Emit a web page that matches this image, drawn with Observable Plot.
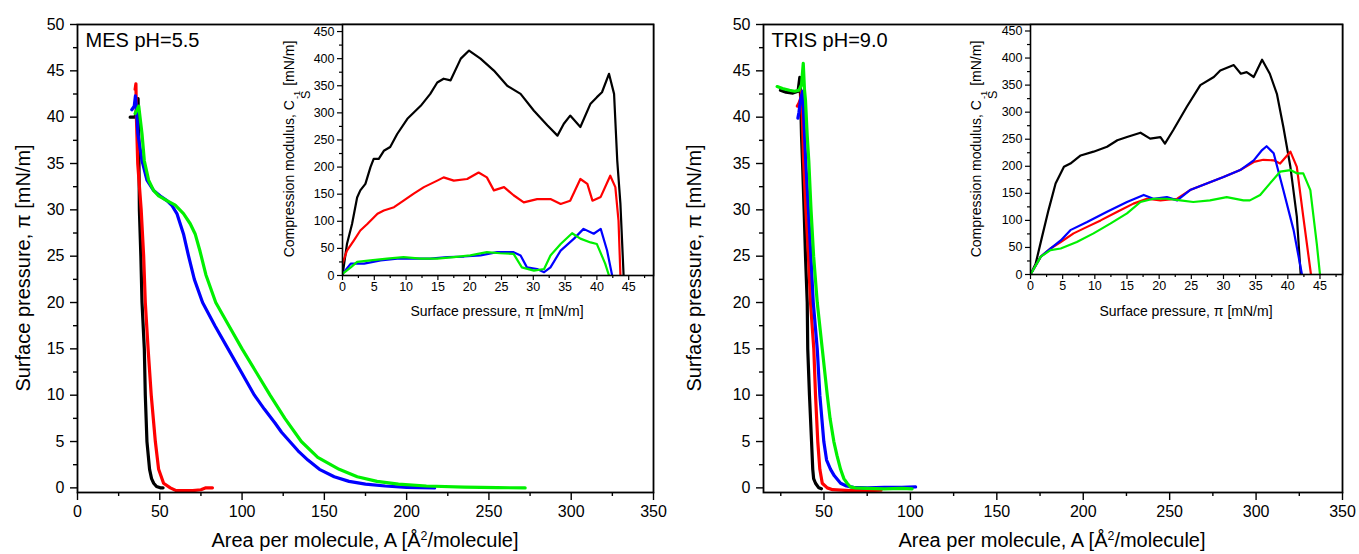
<!DOCTYPE html>
<html><head><meta charset="utf-8">
<script src="https://cdn.jsdelivr.net/npm/d3@7"></script>
<script src="https://cdn.jsdelivr.net/npm/@observablehq/plot@0.6"></script>
<style>
body{margin:0;background:#fff;font-family:"Liberation Sans",Arial,sans-serif;}
#wrap{position:relative;width:1359px;height:554px;overflow:hidden;background:#fff;}
#wrap svg{position:absolute;left:0;top:0;max-width:none;}
.t{position:absolute;white-space:nowrap;color:#000;line-height:1;transform:translate(-50%,-50%);}
.t.rot{transform:translate(-50%,-50%) rotate(-90deg);}
.t sup{font-size:0.62em;vertical-align:0.6em;}
.ss{display:inline-flex;flex-direction:column;vertical-align:-0.45em;font-size:0.9em;line-height:0.9;margin:0 1px;}
.ss .s1{font-size:0.75em;}
</style></head><body><div id="wrap"></div>
<script>
// ---------- Data (area A [Å²/molecule], surface pressure π [mN/m]) ----------
const mesBlack = [[32,40],[35,40],[36,41],[36.8,42],[37.2,38],[37.6,30],[38.5,25],[39.2,20],[40.6,15],[41.2,10],[42.2,5],[43.8,2],[45,1],[46.3,0.5],[48,0.15],[50.3,0],[52,0]];
const mesRed = [[35,43],[35.5,43.6],[35.8,40],[36.6,35],[38.7,30],[40.2,25],[41.2,20],[42.9,15],[44.8,10],[47.3,5],[49.3,2],[52.3,0.5],[56.4,0],[60,-0.3],[70,-0.3],[75,-0.2],[78,0],[82,0]];
const mesBlue = [[33,40.8],[34.5,41.2],[35.2,42.3],[35.8,41],[36.7,38.2],[39.2,35.3],[42.2,33.2],[46.2,32.1],[50.3,31.5],[54.3,31],[57.3,30.5],[60.4,29.6],[64.4,27.4],[67.5,25],[71,22.5],[76,20],[83.5,17.5],[91.5,15],[99.5,12.5],[107.5,10],[113.5,8.5],[120,7],[124,6],[129,5],[134,4],[140,3],[147,2],[156,1.2],[165,0.7],[175,0.4],[187,0.2],[200,0.05],[217,0]];
const mesGreen = [[35,40.4],[36.2,40.8],[37.2,41.2],[38,40],[39.2,38.2],[40.6,35.3],[43.2,33.2],[46.2,32.1],[49.3,31.5],[54.3,31],[59.4,30.5],[64.4,29.6],[68.5,28.5],[71.5,27.4],[74.5,25.5],[78,23],[84,20],[92,17.5],[100,15],[108.5,12.5],[117,10],[126,7.5],[136,5],[146,3.3],[159,2],[170,1.2],[182,0.7],[195,0.4],[212,0.2],[235,0.07],[255,0.02],[272,0]];

const trisBlack = [[24.8,42.9],[28,42.7],[32,42.6],[35,42.8],[36,44.3],[36.5,42],[37,38],[37.6,35],[38.5,30],[39.3,25],[40.3,20],[40.6,15],[41.6,10],[42.8,5],[43.5,2],[44,1],[45.1,0.5],[47,0],[48.5,-0.1]];
const trisRed = [[34.6,41.2],[35.5,41.5],[36.5,42],[37,42.8],[37.5,40],[38.2,35.3],[39.5,30],[41,25],[42.2,20],[44.1,15],[45.1,10],[46.4,5],[47.6,2],[49,0.5],[51.9,0],[55,-0.2],[65,-0.3],[75,-0.3],[83,-0.25]];
const trisBlue = [[34.9,39.9],[35.5,40.5],[36.5,42],[37.7,42.8],[38.3,40],[39.5,35],[41,30],[42.4,25],[43.8,20],[46.1,15],[47.6,10],[49.9,5],[51.5,3],[53.8,2],[56,1.3],[59.6,0.5],[63,0.2],[67.1,0.05],[75,0],[85,0.05],[95,0.05],[103,0.1]];
const trisGreen = [[22.9,43.3],[26,43.1],[30,42.9],[33,42.8],[35.5,42.9],[37,43.5],[38,45.8],[38.7,43],[39.3,41.8],[40.3,38],[41.2,35.3],[42.5,30],[44,25],[46.1,20],[49,15],[51.9,10],[53.5,7.5],[55.7,5],[57.5,3.5],[59.6,2],[61.5,1],[63.4,0.5],[65.3,0.1],[68,0],[75,-0.05],[85,-0.1],[95,-0.05],[101,-0.1]];

// ---------- Inset data (π [mN/m], compression modulus C_S^-1 [mN/m]) ----------
const mesInsetBlack = [[0,0],[0.7,58],[1.5,95],[2.3,144],[2.8,157],[3.6,169],[4.4,200],[4.9,215],[5.7,215],[6.5,230],[7.5,237],[8.6,261],[10.2,289],[12.3,313],[13.8,335],[14.9,356],[15.9,363],[17,360],[18.6,400],[19.9,415],[21.7,400],[23.8,378],[25.9,350],[28,335],[30.1,304],[32.2,277],[33.8,258],[34.8,280],[35.8,295],[37.4,274],[39,317],[40,329],[40.8,338],[41.9,372],[42.7,335],[43.2,212],[43.7,132],[44.2,0]];
const mesInsetRed = [[0,22],[0.7,46],[1.8,65],[2.8,83],[3.9,95],[5.5,114],[6.5,120],[8.1,126],[9.6,138],[11.2,151],[12.8,163],[14.9,175],[15.9,181],[17.5,175],[19.6,178],[21.4,190],[22.7,181],[23.8,157],[25.4,163],[26.9,148],[28.5,135],[30.6,141],[32.7,141],[34.3,132],[35.8,138],[37.4,178],[38.5,169],[39.3,138],[40.6,145],[42.1,184],[42.9,163],[43.4,101],[43.7,0]];
const mesInsetBlue = [[0,3],[1.3,22],[3.4,22],[6,28],[8.6,31],[11.2,31],[13.8,31],[16.5,34],[19.1,35],[21.7,37],[24.3,43],[26.9,43],[28,37],[29,15],[30.6,12],[31.7,6],[32.7,15],[34.3,46],[36.4,68],[37.9,86],[39.5,77],[40.6,86],[41.6,46],[42.4,0]];
const mesInsetGreen = [[0,3],[1.3,15],[2.3,25],[4.4,28],[7,31],[9.6,34],[12.3,31],[14.9,31],[17.5,34],[20.1,37],[22.7,43],[24.8,41],[26.9,40],[28.2,15],[30.1,9],[31.7,12],[32.7,37],[34.3,58],[36.1,78],[37.4,68],[39,61],[40,58],[41.3,22],[41.9,0]];

const trisInsetBlack = [[0,0],[0.8,20],[1.8,70],[2.8,119],[3.9,168],[5.2,199],[6.2,205],[7.8,220],[9.8,227],[11.9,236],[13.5,248],[15,254],[17.1,262],[18.6,251],[20.2,254],[20.9,242],[22.2,267],[24.3,310],[26.4,350],[28.5,365],[29.5,377],[31.6,387],[32.7,371],[33.6,374],[34.7,365],[36,397],[37.2,371],[38.3,334],[39.3,273],[40.4,199],[41.4,107],[42,0]];
const trisInsetRed = [[0,0],[1.6,33],[3.1,48],[4.7,60],[6.7,76],[8.8,88],[10.9,100],[13.5,116],[16,131],[18.1,140],[20.2,137],[22.8,140],[24.8,156],[27.4,168],[30,180],[32.6,193],[34.7,208],[36.2,212],[37.8,211],[38.8,205],[40.4,227],[41.4,199],[42.4,107],[43.6,0]];
const trisInsetBlue = [[0,0],[1.6,33],[3.1,48],[4.7,63],[6.2,82],[8.8,97],[11.9,116],[15,134],[17.6,147],[19.1,140],[21.2,143],[22.8,137],[24.8,156],[27.4,168],[30,180],[32.6,193],[34.7,211],[36,230],[36.7,237],[37.8,224],[39.3,156],[40.9,82],[42.2,0]];
const trisInsetGreen = [[0,0],[1.6,33],[3.1,45],[4.7,48],[7.2,60],[9.8,76],[12.4,94],[15,113],[17.1,134],[19.1,140],[21.2,140],[23.3,137],[25.3,134],[27.9,137],[30.5,143],[33.1,137],[34.1,137],[35.7,147],[37.2,168],[38.8,190],[40.4,193],[41.4,187],[42.4,187],[43.5,156],[44.5,57],[45,0]];

// ---------- Tick values ----------
const yTicks = [0,5,10,15,20,25,30,35,40,45,50];
const yMinorTicks = [2.5,7.5,12.5,17.5,22.5,27.5,32.5,37.5,42.5,47.5];
const mesXTicks = [0,50,100,150,200,250,300,350];
const trisXTicks = [50,100,150,200,250,300,350];
const xMinorTicks = [25,75,125,175,225,275,325];
const insetYTicks = [0,50,100,150,200,250,300,350,400,450];
const insetYMinorTicks = [25,75,125,175,225,275,325,375,425];
const insetXTicks = [0,5,10,15,20,25,30,35,40,45];
const insetXMinorTicks = [2.5,7.5,12.5,17.5,22.5,27.5,32.5,37.5,42.5,47.5];

const colors = {black:"#000000", red:"#ff0000", blue:"#0000ff", green:"#00f000"};
const FONT = '"Liberation Sans", Arial, sans-serif';
const W = 1359, H = 554;

function lines(list, sw) {
  return list.map(([d, c]) => Plot.line(d, {x: p => p[0], y: p => p[1], stroke: c, strokeWidth: sw, strokeLinejoin: "round", strokeLinecap: "round", clip: true}));
}

function mainPlot({ml, mr, xDomain, xTicks, series, label}) {
  return Plot.plot({
    width: W, height: H,
    marginLeft: ml, marginRight: mr, marginTop: 24, marginBottom: 62,
    x: {domain: xDomain}, y: {domain: [-0.5, 50]},
    style: {fontFamily: FONT, background: "transparent", overflow: "visible"},
    marks: [
      Plot.axisY({ticks: yTicks, tickSize: 7, tickPadding: 6, fontSize: 16, label: null, strokeWidth: 1.4}),
      Plot.axisY({ticks: yMinorTicks, tickSize: 4, fill: "none", label: null, strokeWidth: 1.4}),
      Plot.axisX({ticks: xTicks, tickSize: 8, tickPadding: 5, fontSize: 16, label: null, strokeWidth: 1.4}),
      Plot.axisX({ticks: xMinorTicks, tickSize: 4, fill: "none", label: null, strokeWidth: 1.4}),
      ...lines(series, 3.2),
      Plot.frame({stroke: "#000", strokeWidth: 1.8}),
      Plot.text([label], {text: d => d, frameAnchor: "top-left", textAnchor: "start", lineAnchor: "top", dx: 8, dy: 8, fontSize: 20})
    ]
  });
}

function insetPlot({ml, mr, mb, xDomain, yDomain, series}) {
  return Plot.plot({
    width: W, height: H,
    marginLeft: ml, marginRight: mr, marginTop: 24, marginBottom: mb,
    x: {domain: xDomain}, y: {domain: yDomain},
    style: {fontFamily: FONT, background: "transparent", overflow: "visible"},
    marks: [
      Plot.frame({fill: "white", stroke: "none"}),
      Plot.axisY({ticks: insetYTicks, tickSize: 5, tickPadding: 3, fontSize: 12.5, label: null, strokeWidth: 1.2}),
      Plot.axisY({ticks: insetYMinorTicks, tickSize: 3, fill: "none", label: null, strokeWidth: 1.2}),
      Plot.axisX({ticks: insetXTicks, tickSize: 5, tickPadding: 2, fontSize: 12.5, label: null, strokeWidth: 1.2}),
      Plot.axisX({ticks: insetXMinorTicks, tickSize: 3, fill: "none", label: null, strokeWidth: 1.2}),
      ...lines(series, 2.2),
      Plot.frame({stroke: "#000", strokeWidth: 1.6})
    ]
  });
}

const wrap = document.getElementById("wrap");

wrap.append(mainPlot({
  ml: 77, mr: W - 653, xDomain: [0, 350], xTicks: mesXTicks, label: "MES pH=5.5",
  series: [[mesBlack, colors.black], [mesRed, colors.red], [mesBlue, colors.blue], [mesGreen, colors.green]]
}));
wrap.append(mainPlot({
  ml: 763, mr: W - 1342, xDomain: [15, 350], xTicks: trisXTicks, label: "TRIS pH=9.0",
  series: [[trisBlack, colors.black], [trisRed, colors.red], [trisBlue, colors.blue], [trisGreen, colors.green]]
}));
wrap.append(insetPlot({
  ml: 342, mr: W - 653, mb: H - 275, xDomain: [0, 48.9], yDomain: [0, 463],
  series: [[mesInsetBlack, colors.black], [mesInsetRed, colors.red], [mesInsetBlue, colors.blue], [mesInsetGreen, colors.green]]
}));
wrap.append(insetPlot({
  ml: 1030, mr: W - 1342, mb: H - 274, xDomain: [0, 48.5], yDomain: [0, 462],
  series: [[trisInsetBlack, colors.black], [trisInsetRed, colors.red], [trisInsetBlue, colors.blue], [trisInsetGreen, colors.green]]
}));

// ---------- Axis titles ----------
const mainY = "Surface pressure, π [mN/m]";
const mainX = "Area per molecule, A [Å<sup>2</sup>/molecule]";
const insetY = 'Compression modulus, C<span class="ss"><span class="s1">-1</span><span>S</span></span> [mN/m]';
const insetX = "Surface pressure, π [mN/m]";
const titles = [
  [mainY, 23, 268, 20, true], [mainY, 694, 268, 20, true],
  [mainX, 365, 540, 20, false], [mainX, 1052, 540, 20, false],
  [insetY, 297, 149, 14, true], [insetY, 984, 149, 14, true],
  [insetX, 497, 311, 14, false], [insetX, 1186, 311, 14, false]
];
for (const [html, x, y, fs, rot] of titles) {
  const s = document.createElement("div");
  s.className = "t" + (rot ? " rot" : "");
  s.style.left = x + "px"; s.style.top = y + "px"; s.style.fontSize = fs + "px";
  s.innerHTML = html;
  wrap.append(s);
}
</script></body></html>
